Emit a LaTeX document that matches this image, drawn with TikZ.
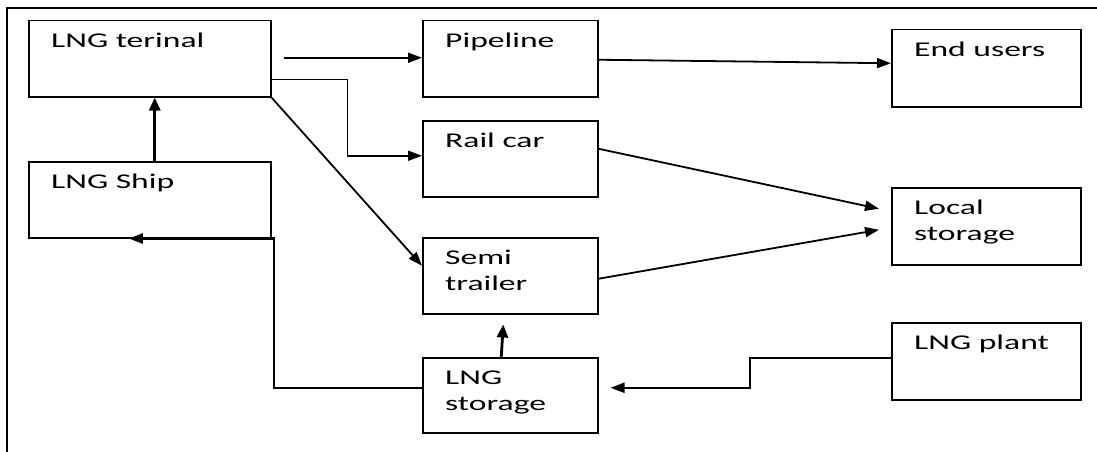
\documentclass[tikz,border=0pt]{standalone}
\usepackage{fontspec}
\setmainfont{Carlito}[FakeStretch=1.6]
\usetikzlibrary{arrows.meta,calc}
\tikzset{
  box/.style={draw=black, line width=1.5pt, rectangle, inner sep=0pt, anchor=north west},
  arr/.style={line width=1.8pt, -{Triangle[length=14pt,width=10pt]}},
  thickarr/.style={line width=2.8pt, -{Triangle[length=13pt,width=11pt]}},
  frame/.style={line width=2.2pt},
  txt/.style={anchor=north west, inner sep=0pt, align=left, font=\fontsize{21}{26}\selectfont}
}
\newcommand{\lbl}[3]{\node[txt] (#1) at ([xshift=23pt,yshift=-12pt]#2.north west) {\rule{0pt}{15pt}#3};}
\begin{document}
\begin{tikzpicture}[x=1pt,y=-1pt]
\useasboundingbox (0,0) rectangle (1097,452);
% frame
\coordinate (ftl) at (7,8);
\coordinate (ftr) at (1097,8);
\coordinate (fbl) at (7,452);
\draw[frame] (ftr) -- (ftl) -- (fbl);
% boxes
\node[box, minimum width=242pt, minimum height=76pt] (term) at (28,20) {};
\node[box, minimum width=242pt, minimum height=76pt] (ship) at (28,161) {};
\node[box, minimum width=175pt, minimum height=76pt] (pipe) at (422,20) {};
\node[box, minimum width=175pt, minimum height=76pt] (rail) at (422,120) {};
\node[box, minimum width=175pt, minimum height=76pt] (semi) at (422,237) {};
\node[box, minimum width=175pt, minimum height=75pt] (stor) at (422,357) {};
\node[box, minimum width=189pt, minimum height=77pt] (endu) at (891,29) {};
\node[box, minimum width=189pt, minimum height=77pt] (local) at (891,187) {};
\node[box, minimum width=189pt, minimum height=77pt] (plant) at (891,322) {};
% labels
\lbl{termt}{term}{LNG terinal}
\lbl{shipt}{ship}{LNG Ship}
\lbl{pipet}{pipe}{Pipeline}
\lbl{railt}{rail}{Rail car}
\lbl{semit}{semi}{Semi\\trailer}
\lbl{stort}{stor}{LNG\\storage}
\lbl{endut}{endu}{End users}
\lbl{localt}{local}{Local\\storage}
\lbl{plantt}{plant}{LNG plant}
% connectors
\draw[arr] ([xshift=12pt,yshift=1pt]term.east) -- ([yshift=1pt]pipe.west);
\draw[arr] ([yshift=18pt]term.south east) -- ++(76,0) |- ([yshift=3pt]rail.west);
\draw[arr] (term.south east) -- ([yshift=10pt]semi.west);
\draw[thickarr] ([xshift=5pt]ship.north) -- ([xshift=5pt]term.south);
\draw[arr, line width=2.1pt] ([yshift=7.5pt]stor.west) -- ++(-148,0) |- ([xshift=-21pt]ship.south);
\draw[thickarr] ([xshift=-9pt]stor.north) -- ([xshift=-7pt,yshift=-10pt]semi.south);
\draw[arr] ([yshift=-1pt]pipe.east) -- ([yshift=5pt]endu.west);
\draw[arr] ([yshift=10pt]rail.east) -- ([xshift=-12pt,yshift=17.5pt]local.west);
\draw[arr] ([yshift=-3pt]semi.east) -- ([xshift=-12pt,yshift=-3.5pt]local.west);
\draw[arr, line width=2.1pt] ([yshift=3.5pt]plant.west) -- ++(-141,0) |- ([xshift=12pt,yshift=7.5pt]stor.east);
\end{tikzpicture}
\end{document}
